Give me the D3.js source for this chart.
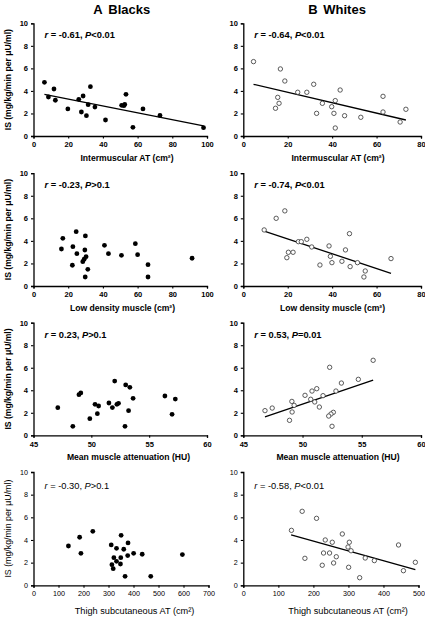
<!DOCTYPE html>
<html>
<head>
<meta charset="utf-8">
<script src="https://cdn.jsdelivr.net/npm/d3@7"></script>
<style>
  html, body { margin: 0; padding: 0; background: #fff; }
  svg { display: block; font-family: "Liberation Sans", Arial, sans-serif; }
</style>
</head>
<body>
<svg id="chart" width="425" height="617"></svg>
<script>
// ---------- DATA ----------
const yTicks = [0, 2, 4, 6, 8, 10];

// Blacks – Intermuscular AT
const blkImatX = [6.3, 8.6, 11.8, 12.6, 19.8, 26.1, 27.6, 28.6, 30.5, 31.5, 32.8, 35.4, 41.5, 50.8, 52.1, 52.6, 53.3, 57.3, 63.1, 72.9, 98.0];
const blkImatY = [4.76, 3.46, 4.17, 3.17, 2.40, 3.25, 2.13, 3.55, 1.80, 2.78, 4.38, 2.57, 1.42, 2.72, 2.69, 2.80, 3.70, 0.77, 2.40, 1.83, 0.74];
const blkImatFit = [[6.3, 3.70], [98, 0.89]];

// Whites – Intermuscular AT
const whtImatX = [4.6, 16.7, 18.7, 15.5, 16.1, 14.5, 24.5, 28.6, 31.7, 33.0, 35.6, 39.8, 43.6, 41.4, 40.8, 41.4, 45.6, 52.9, 62.9, 62.9, 70.6, 73.2];
const whtImatY = [6.60, 5.95, 4.88, 3.43, 2.90, 2.46, 3.88, 3.88, 4.59, 2.01, 2.90, 2.60, 4.08, 3.14, 2.01, 0.71, 1.80, 1.66, 3.52, 2.13, 1.24, 2.37];
const whtImatFit = [[4.6, 4.59], [73.2, 1.42]];

// Blacks – Low density muscle
const blkLdmX = [16.9, 24.6, 29.9, 16.1, 22.7, 25.0, 29.6, 30.3, 29.2, 28.4, 22.4, 31.3, 29.8, 40.9, 43.2, 50.7, 58.7, 60.0, 66.0, 66.0, 91.4];
const blkLdmY = [4.23, 4.82, 4.44, 3.28, 3.49, 2.87, 3.19, 2.60, 2.37, 2.16, 1.84, 1.48, 0.80, 3.61, 2.87, 2.72, 3.75, 2.78, 1.89, 0.80, 2.46];

// Whites – Low density muscle
const whtLdmX = [9.4, 14.8, 18.7, 20.3, 22.4, 19.6, 24.8, 26.1, 28.6, 30.8, 38.6, 39.2, 39.9, 34.5, 44.4, 46.0, 47.8, 48.1, 51.4, 54.3, 54.9, 66.5];
const whtLdmY = [4.97, 6.00, 6.66, 2.99, 2.99, 2.51, 3.93, 3.93, 4.14, 3.46, 3.55, 2.63, 2.07, 1.86, 2.19, 3.20, 4.64, 1.72, 2.07, 0.80, 1.33, 2.43];
const whtLdmFit = [[9.4, 4.87], [66.5, 1.12]];

// Blacks – Mean muscle attenuation
const blkMmaX = [47.1, 48.4, 48.93, 49.09, 49.87, 50.32, 50.52, 50.63, 51.52, 51.82, 52.02, 52.21, 52.35, 52.91, 52.97, 53.22, 53.33, 53.61, 56.36, 56.98, 57.26];
const blkMmaY = [2.45, 0.80, 3.61, 3.76, 1.48, 2.75, 1.92, 2.60, 2.87, 2.46, 4.82, 2.75, 2.84, 0.80, 4.47, 2.19, 4.26, 3.28, 3.49, 1.86, 3.22];

// Whites – Mean muscle attenuation
const whtMmaX = [46.83, 47.44, 49.10, 49.29, 49.12, 48.90, 50.21, 50.80, 51.20, 50.69, 51.03, 51.42, 51.73, 52.29, 52.82, 52.60, 52.40, 52.21, 52.49, 53.28, 54.71, 55.96];
const whtMmaY = [2.19, 2.42, 3.01, 2.66, 2.07, 1.33, 3.55, 3.93, 4.14, 3.20, 2.96, 2.51, 3.52, 6.04, 3.93, 2.04, 1.89, 1.71, 0.80, 4.64, 4.97, 6.66];
const whtMmaFit = [[46.83, 1.63], [55.96, 4.91]];

// Blacks – Thigh subcutaneous AT
const blkSatX = [139.7, 184.5, 189.7, 237.2, 310.9, 313.6, 318.8, 321.5, 332, 332, 349.1, 350.5, 347.8, 361, 366.3, 378.1, 376.8, 400.5, 434.8, 469, 595.5];
const blkSatY = [3.47, 4.24, 2.82, 4.76, 3.56, 1.82, 1.47, 2.44, 3.26, 2.12, 2.44, 4.41, 1.88, 3.18, 0.79, 3.74, 2.62, 2.82, 2.74, 0.79, 2.71];

// Whites – Thigh subcutaneous AT
const whtSatX = [137.4, 168, 209, 175.8, 282.6, 233.9, 253.9, 302.5, 298.9, 307.5, 229, 246.2, 265.4, 225.3, 257.7, 300.6, 332.1, 348, 374, 443, 457, 491];
const whtSatY = [4.85, 6.53, 5.91, 2.38, 4.53, 4.00, 3.80, 3.80, 3.38, 3.05, 2.85, 2.85, 2.52, 1.77, 1.97, 1.59, 0.67, 2.41, 2.18, 3.56, 1.29, 2.03];
const whtSatFit = [[136.5, 4.44], [491, 1.38]];

const xTicks100 = [0, 20, 40, 60, 80, 100];
const xTicks80 = [0, 20, 40, 60, 80];
const xTicksHU = [45, 50, 55, 60];
const xTicks700 = [0, 100, 200, 300, 400, 500, 600, 700];
const xTicks500 = [0, 100, 200, 300, 400, 500];

const xLabels = ["Intermuscular AT (cm²)", "Low density muscle (cm²)", "Mean muscle attenuation (HU)", "Thigh subcutaneous AT (cm²)"];
const yLabel = "IS (mg/kg/min per μU/ml)";
const headers = [["A", "Blacks"], ["B", "Whites"]];
const notes = [
  ["-0.61", "<0.01"], ["-0.64", "<0.01"],
  ["-0.23", ">0.1"], ["-0.74", "<0.01"],
  ["0.23", ">0.1"], ["0.53", "=0.01"],
  ["-0.30", ">0.1"], ["-0.58", "<0.01"]
];

// ---------- LAYOUT ----------
const svg = d3.select("#chart");
const colLeft = [33.5, 243.3];
const colRight = [[207, 207, 207, 208.5], [421, 421, 421, 418.5]];
const rowTop = [23.3, 173.2, 322.7, 472];
const rowBottom = [136, 286, 435.3, 585.3];
const titleCenter = [[127, 122.5, 128.5, 134.5], [338, 332.5, 338, 348]];

const panels = [
  {r: 0, c: 0, xs: blkImatX, ys: blkImatY, dom: [0, 100], ticks: xTicks100, fit: blkImatFit, filled: true},
  {r: 0, c: 1, xs: whtImatX, ys: whtImatY, dom: [0, 80], ticks: xTicks80, fit: whtImatFit, filled: false},
  {r: 1, c: 0, xs: blkLdmX, ys: blkLdmY, dom: [0, 100], ticks: xTicks100, fit: null, filled: true},
  {r: 1, c: 1, xs: whtLdmX, ys: whtLdmY, dom: [0, 80], ticks: xTicks80, fit: whtLdmFit, filled: false},
  {r: 2, c: 0, xs: blkMmaX, ys: blkMmaY, dom: [45, 60], ticks: xTicksHU, fit: null, filled: true},
  {r: 2, c: 1, xs: whtMmaX, ys: whtMmaY, dom: [45, 60], ticks: xTicksHU, fit: whtMmaFit, filled: false},
  {r: 3, c: 0, xs: blkSatX, ys: blkSatY, dom: [0, 700], ticks: xTicks700, fit: null, filled: true},
  {r: 3, c: 1, xs: whtSatX, ys: whtSatY, dom: [0, 500], ticks: xTicks500, fit: whtSatFit, filled: false}
];

// headers
headers.forEach((h, i) => {
  const x0 = i === 0 ? 93.3 : 308.3;
  svg.append("text").attr("x", x0).attr("y", 14).attr("font-size", 13).attr("font-weight", "bold").text(h[0]);
  svg.append("text").attr("x", x0 + 15).attr("y", 14).attr("font-size", 13).attr("font-weight", "bold").text(h[1]);
});

panels.forEach((p, idx) => {
  const last = p.r === 3;
  const weight = last ? "normal" : "bold";
  const x = d3.scaleLinear().domain(p.dom).range([colLeft[p.c], colRight[p.c][p.r]]);
  const y = d3.scaleLinear().domain([0, 10]).range([rowBottom[p.r], rowTop[p.r]]);
  const g = svg.append("g");

  const xAxis = g.append("g").attr("transform", `translate(0,${rowBottom[p.r]})`)
    .call(d3.axisBottom(x).tickValues(p.ticks).tickSize(2.5).tickPadding(3.5).tickFormat(d3.format("d")));
  const yAxis = g.append("g").attr("transform", `translate(${colLeft[p.c]},0)`)
    .call(d3.axisLeft(y).tickValues(yTicks).tickSize(2.5).tickPadding(3).tickFormat(d3.format("d")));
  [xAxis, yAxis].forEach(ax => {
    ax.select(".domain").attr("stroke", "#000").attr("stroke-width", 1.3);
    ax.selectAll(".tick line").attr("stroke", "#000").attr("stroke-width", 1.1);
    ax.selectAll(".tick text").attr("fill", "#000").attr("font-size", last ? 7.2 : 7.5)
      .attr("font-weight", weight).attr("font-family", "Liberation Sans, Arial, sans-serif");
  });

  // fit line
  if (p.fit) {
    g.append("line")
      .attr("x1", x(p.fit[0][0])).attr("y1", y(p.fit[0][1]))
      .attr("x2", x(p.fit[1][0])).attr("y2", y(p.fit[1][1]))
      .attr("stroke", "#000").attr("stroke-width", 1.3);
  }

  // points
  const pts = p.xs.map((v, i) => [v, p.ys[i]]);
  g.selectAll("circle").data(pts).enter().append("circle")
    .attr("cx", d => x(d[0])).attr("cy", d => y(d[1]))
    .attr("r", p.filled ? 2.4 : 2.2)
    .attr("fill", p.filled ? "#000" : "#fff")
    .attr("stroke", p.filled ? "none" : "#333")
    .attr("stroke-width", 0.8);

  // annotation
  const n = notes[idx];
  const t = g.append("text").attr("x", colLeft[p.c] + 11).attr("y", rowTop[p.r] + (last ? 17 : 15))
    .attr("font-size", 9.3).attr("font-weight", weight);
  t.append("tspan").attr("font-style", "italic").text("r");
  t.append("tspan").text(" = " + n[0] + ", ");
  t.append("tspan").attr("font-style", "italic").text("P");
  t.append("tspan").text(n[1]);

  // x label
  g.append("text").attr("x", titleCenter[p.c][p.r]).attr("y", rowBottom[p.r] + (last ? 28.5 : 24.5))
    .attr("text-anchor", "middle").attr("font-size", last ? 9.2 : 8.6).attr("font-weight", weight)
    .text(xLabels[p.r]);

  // y label (left column only)
  if (p.c === 0) {
    const cy = (rowTop[p.r] + rowBottom[p.r]) / 2;
    g.append("text").attr("transform", `translate(10.5,${cy}) rotate(-90)`)
      .attr("text-anchor", "middle").attr("font-size", last ? 8.8 : 8.6).attr("font-weight", weight)
      .text(yLabel);
  }
});
</script>
</body>
</html>
